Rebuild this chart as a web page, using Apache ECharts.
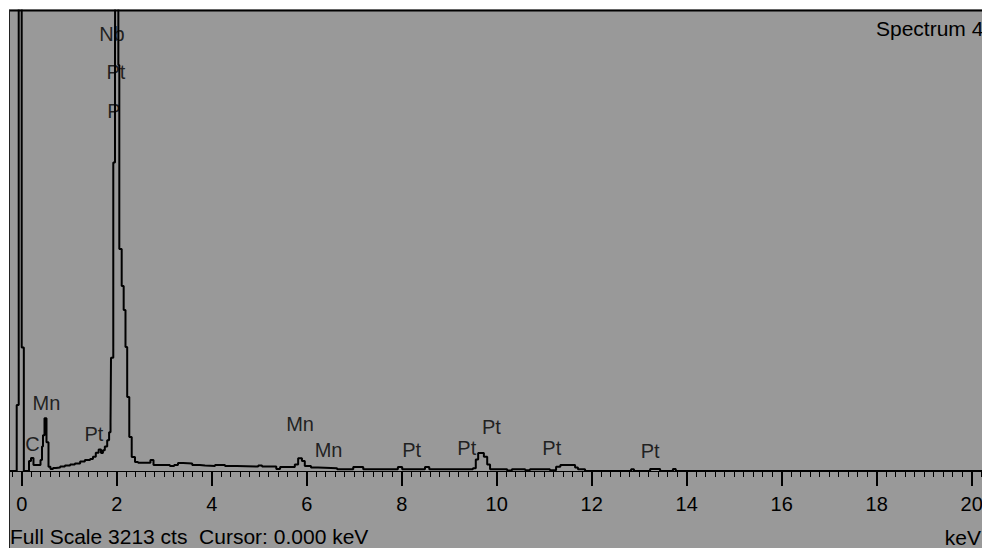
<!DOCTYPE html>
<html>
<head>
<meta charset="utf-8">
<script src="https://cdn.jsdelivr.net/npm/echarts@6/dist/echarts.min.js"></script>
<style>
  html, body { margin: 0; padding: 0; background: #fff; }
  #chart { width: 982px; height: 548px; }
</style>
</head>
<body>
<div id="chart"></div>
<script>
// spectrum (keV, counts); value holds until the next energy
const energyKeV = [
  -2, -0.105, -0.063, 0.0, 0.045,
  0.154, 0.196, 0.248, 0.396, 0.427, 0.448, 0.48, 0.522, 0.564, 0.606, 0.659,
  0.72, 0.81, 0.91, 1.02, 1.12, 1.23, 1.33, 1.44, 1.50, 1.56, 1.62, 1.67, 1.71, 1.75, 1.80, 1.84, 1.87, 1.88,
  1.928, 1.964, 1.975, 2.035, 2.055, 2.105, 2.147, 2.185, 2.221, 2.265, 2.316, 2.385, 2.45, 2.71, 2.775,
  3.12, 3.21, 3.29, 3.40, 3.59, 3.75, 3.86, 4.07, 4.28, 4.53, 4.98, 5.06, 5.36, 5.44, 5.75, 5.82, 5.90, 5.96, 6.09, 6.24, 6.64, 6.98, 7.19, 7.92, 8.01, 8.49, 8.58,
  9.50, 9.56, 9.61, 9.73, 9.80, 9.86, 10.22, 10.32, 10.60, 10.70, 11.12, 11.25, 11.34, 11.65, 11.71, 11.86, 12.83, 12.89, 13.23, 13.44, 13.71, 13.77, 22
]
const counts = [
  0, 460, 5000, 860, 0,
  70, 90, 42, 77, 170, 250, 367, 200, 30, 14, 21,
  24, 31, 38, 45, 52, 66, 77, 84, 100, 128, 150, 125, 145, 170, 215, 270, 335, 790,
  2150, 2830, 5000, 2830, 1547, 1289, 1122, 864, 516, 237, 98, 63, 58, 77, 42,
  35, 42, 55, 52, 42, 38, 35, 42, 35, 31, 38, 31, 14, 28, 45, 88, 70, 35, 24, 20, 12, 28, 12, 28, 12, 28, 12,
  20, 80, 125, 100, 45, 12, 3, 12, 5, 12, 5, 30, 42, 25, 12, 0, 12, 0, 14, 0, 14, 0, 0
]

// element labels (name, keV, counts at label centre)
const peakNames = ['Nb', 'Pt', 'P', 'Mn', 'C', 'Pt', 'Mn', 'Mn', 'Pt', 'Pt', 'Pt', 'Pt', 'Pt']
const peakE = [1.90, 1.985, 1.943, 0.52, 0.227, 1.52, 5.86, 6.46, 8.21, 9.37, 9.89, 11.16, 13.23]
const peakCounts = [3049, 2781, 2506, 477, 185, 261, 331, 146, 143, 157, 307, 157, 136]

const tickLabels = ['0', '2', '4', '6', '8', '10', '12', '14', '16', '18', '20']
const fullScale = 3213

const fontFamily = '"Liberation Sans", Arial, sans-serif'
const font = '21px ' + fontFamily

const spectrum = energyKeV.map((e, i) => [e, counts[i]])
const labelData = peakNames.map((n, i) => ({ name: n, value: [peakE[i], peakCounts[i]] }))

const chart = echarts.init(document.getElementById('chart'), null, { renderer: 'svg' })
const option = {
  animation: false,
  backgroundColor: '#999999',
  grid: {
    // axis runs -2..22 keV so that 0 sits at x=21.7 and 20 at x=971
    left: -73.3,
    right: -84.7,
    top: 10,
    bottom: 77,
    outerBoundsMode: 'none',
    containLabel: false
  },
  xAxis: [
    {
      type: 'value',
      min: -2,
      max: 22,
      interval: 2,
      offset: 3,
      axisLine: { show: true, lineStyle: { color: '#000', width: 1 } },
      axisTick: { show: true, inside: false, length: 15, lineStyle: { color: '#000', width: 2 } },
      minorTick: { show: true, splitNumber: 10, length: 6, lineStyle: { color: '#000', width: 1 } },
      splitLine: { show: false },
      minorSplitLine: { show: false },
      axisLabel: {
        show: true,
        margin: 20,
        color: '#000',
        fontSize: 20,
        fontFamily: fontFamily,
        formatter: function (v) {
          const s = String(Math.round(v))
          return tickLabels.indexOf(s) >= 0 ? s : ''
        }
      }
    },
    {
      // 1 keV ticks, a bit longer than the minor ones
      type: 'value',
      min: -2,
      max: 22,
      interval: 1,
      offset: 3,
      axisLine: { show: false },
      axisTick: { show: true, inside: false, length: 8, lineStyle: { color: '#000', width: 1 } },
      splitLine: { show: false },
      axisLabel: { show: false }
    }
  ],
  yAxis: {
    type: 'value',
    min: 0,
    max: fullScale,
    show: false,
    splitLine: { show: false }
  },
  series: [
    {
      type: 'line',
      data: spectrum,
      step: 'end',
      showSymbol: false,
      symbol: 'none',
      clip: true,
      lineStyle: { color: '#000', width: 2 },
      z: 3
    },
    {
      type: 'scatter',
      data: labelData,
      symbolSize: 0,
      silent: true,
      label: {
        show: true,
        position: 'inside',
        formatter: p => p.name,
        color: '#000',
        fontSize: 20,
        fontFamily: fontFamily
      },
      z: 4
    }
  ],
  graphic: [
    { type: 'rect', z: 100, shape: { x: 0, y: 0, width: 982, height: 9.5 }, style: { fill: '#fff' } },
    { type: 'rect', z: 100, shape: { x: 0, y: 0, width: 9, height: 548 }, style: { fill: '#fff' } },
    { type: 'line', z: 101, shape: { x1: 9, y1: 10.5, x2: 982, y2: 10.5 }, style: { stroke: '#000', lineWidth: 2 } },
    { type: 'line', z: 101, shape: { x1: 9.5, y1: 10, x2: 9.5, y2: 548 }, style: { stroke: '#222', lineWidth: 1 } },
    { type: 'text', z: 101, x: 876, y: 28, style: { text: 'Spectrum 4', font: font, fill: '#000', textAlign: 'left', textVerticalAlign: 'middle' } },
    { type: 'text', z: 101, x: 10, y: 536, style: { text: 'Full Scale 3213 cts  Cursor: 0.000 keV', font: font, fill: '#000', textAlign: 'left', textVerticalAlign: 'middle' } },
    { type: 'text', z: 101, x: 981, y: 537, style: { text: 'keV', font: font, fill: '#000', textAlign: 'right', textVerticalAlign: 'middle' } }
  ]
}
chart.setOption(option)
</script>
</body>
</html>
